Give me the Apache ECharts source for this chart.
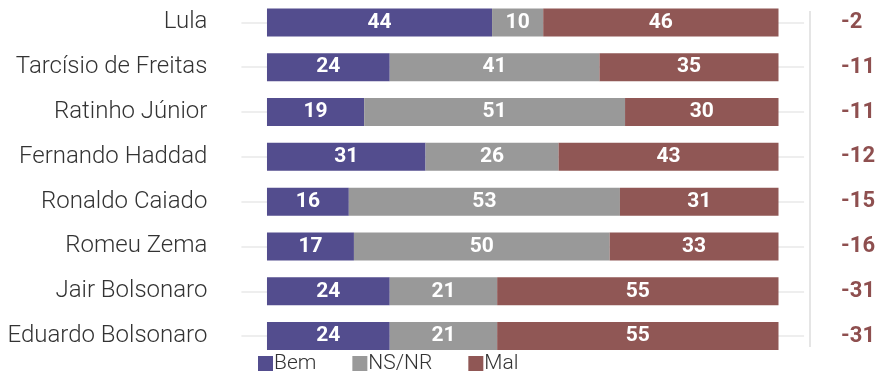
<!DOCTYPE html>
<html><head><meta charset="utf-8">
<script src="https://cdn.jsdelivr.net/npm/echarts@6/dist/echarts.min.js"></script>
<style>html,body{margin:0;padding:0;background:#fff}#c{width:878px;height:371px}</style>
</head><body><div id="c"></div>
<script>
const categories = ['Lula','Tarcísio de Freitas','Ratinho Júnior','Fernando Haddad','Ronaldo Caiado','Romeu Zema','Jair Bolsonaro','Eduardo Bolsonaro'];
const bem = [44,24,19,31,16,17,24,24];
const nsnr = [10,41,51,26,53,50,21,21];
const mal = [46,35,30,43,31,33,55,55];
const net = [-2,-11,-11,-12,-15,-16,-31,-31];

const chart = echarts.init(document.getElementById('c'));
const lbl = {show:true,position:'inside',color:'#fff',fontFamily:'Roboto',fontWeight:'bold',fontSize:21};
chart.setOption({
  animation:false,
  grid:{left:241.4,width:563.2,top:-1.5,height:360,containLabel:false},
  xAxis:{type:'value',min:-5,max:105,show:false},
  yAxis:[{type:'category',data:categories,inverse:true,
    axisLine:{show:false},axisTick:{show:false},splitLine:{show:false},
    axisLabel:{margin:34,color:'#333',fontFamily:'Roboto',fontWeight:300,fontSize:24}},
   {type:'category',data:net.map(String),inverse:true,position:'right',
    axisLine:{show:false},axisTick:{show:false},splitLine:{show:false},
    axisLabel:{margin:37,align:'left',color:'#8e4f4f',fontFamily:'Roboto',fontWeight:'bold',fontSize:22}}],
  legend:{left:253,top:348,itemWidth:15,itemHeight:15,itemGap:36,icon:'rect',
    textStyle:{color:'#333',fontFamily:'Roboto',fontWeight:300,fontSize:21,padding:[0,0,0,-4]},
    data:['Bem','NS/NR','Mal']},
  graphic:[{type:'line',shape:{x1:810,y1:11,x2:810,y2:347},style:{stroke:'#ddd',lineWidth:1.5},silent:true}],
  series:[
    {type:'line',name:'_grid',data:[],z:0,silent:true,
     markLine:{z:0,silent:true,symbol:'none',label:{show:false},lineStyle:{color:'#eee',width:2,type:'solid'},
       data:categories.map(c=>({yAxis:c}))}},
    {type:'bar',name:'Bem',stack:'a',data:bem,barWidth:28,z:3,itemStyle:{color:'#534d8e'},label:lbl},
    {type:'bar',name:'NS/NR',stack:'a',data:nsnr,barWidth:28,z:3,itemStyle:{color:'#999999'},label:lbl},
    {type:'bar',name:'Mal',stack:'a',data:mal,barWidth:28,z:3,itemStyle:{color:'#905755'},label:lbl}
  ]
});
</script></body></html>
